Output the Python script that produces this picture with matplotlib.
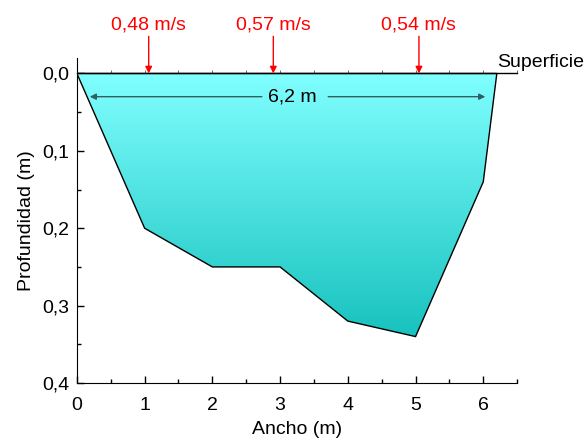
import numpy as np
import matplotlib
matplotlib.use("Agg")
import matplotlib.pyplot as plt
from matplotlib.patches import Polygon
from matplotlib.colors import LinearSegmentedColormap
from matplotlib.ticker import MultipleLocator, FuncFormatter

plt.rcParams['font.family'] = ['Liberation Sans', 'DejaVu Sans']

# Channel cross-section (width in m, depth in m)
ancho = [0.0, 1.0, 2.0, 3.0, 4.0, 5.0, 6.0, 6.2]
profundidad = [0.0, 0.20, 0.25, 0.25, 0.32, 0.34, 0.14, 0.0]

# Surface velocity measurements
vel_x = [1.06, 2.90, 5.05]
vel_labels = ["0,48 m/s", "0,57 m/s", "0,54 m/s"]

ancho_total = 6.2

FS = 14

fig = plt.figure(figsize=(5.87, 4.41), dpi=100)
ax = fig.add_axes([0.131, 0.1315, 0.75, 0.737])

xmax = 6.5
ax.set_xlim(0, xmax)
ax.set_ylim(0.4, -0.02)

# Gradient water fill clipped to the section polygon
verts = list(zip(ancho, profundidad))
poly = Polygon(verts, closed=True, facecolor='none', edgecolor='black', lw=1.0, zorder=3)
ax.add_patch(poly)
cmap = LinearSegmentedColormap.from_list("agua", ["#80FFFF", "#17C2BE"])
grad = np.linspace(0, 1, 256).reshape(-1, 1)
img = ax.imshow(grad, cmap=cmap, aspect='auto', extent=[0, 6.2, max(profundidad), 0],
                origin='upper', zorder=2, interpolation='bilinear')
img.set_clip_path(poly)

# Surface line
ax.plot([0, xmax], [0, 0], color='black', lw=1.0, zorder=4, clip_on=False)
ax.text(6.2, -0.003, "Superficie", fontsize=FS, ha='left', va='bottom', clip_on=False)

# Small ticks along the surface
sec = ax.secondary_xaxis(0.4 / 0.42)
sec.xaxis.set_major_locator(MultipleLocator(1))
sec.xaxis.set_minor_locator(MultipleLocator(0.5))
sec.xaxis.set_ticks_position('bottom')
sec.tick_params(which='both', direction='in', length=2.5, width=0.6, labelbottom=False,
                labeltop=False, top=False, bottom=True, color='#555555')
sec.spines['bottom'].set_visible(False)
sec.spines['top'].set_visible(False)

# Velocity arrows
for xv, lab in zip(vel_x, vel_labels):
    ax.annotate("", xy=(xv, 0.0), xytext=(xv, -0.048),
                arrowprops=dict(arrowstyle='-|>', color='red', lw=1.0,
                                mutation_scale=10, shrinkA=0, shrinkB=0),
                annotation_clip=False, zorder=5)
    ax.text(xv, -0.052, lab, color='red', fontsize=FS, ha='center', va='bottom')

# Width dimension arrow
yw = 0.03
arrow_kw = dict(arrowstyle='-|>', color='#2f5f5f', lw=1.0, mutation_scale=9,
                shrinkA=0, shrinkB=0)
ax.annotate("", xy=(0.19, yw), xytext=(2.73, yw), arrowprops=arrow_kw, zorder=5)
ax.annotate("", xy=(6.03, yw), xytext=(3.71, yw), arrowprops=arrow_kw, zorder=5)
ax.text(3.18, yw, f"{ancho_total:.1f} m".replace('.', ','), fontsize=FS,
        ha='center', va='center', zorder=6)

# Axes styling
for s in ['top', 'right']:
    ax.spines[s].set_visible(False)
ax.xaxis.set_major_locator(MultipleLocator(1))
ax.xaxis.set_minor_locator(MultipleLocator(0.5))
ax.yaxis.set_major_locator(MultipleLocator(0.1))
ax.yaxis.set_minor_locator(MultipleLocator(0.05))
ax.yaxis.set_major_formatter(FuncFormatter(lambda v, p: f"{v:.1f}".replace('.', ',')))
ax.tick_params(which='major', direction='in', length=5, width=1, labelsize=FS)
ax.tick_params(which='minor', direction='in', length=3, width=1)
ax.tick_params(axis='x', which='major', pad=10)
ax.tick_params(axis='y', which='major', pad=5.5)
ax.set_xticks([0, 1, 2, 3, 4, 5, 6])
ax.set_yticks([0.0, 0.1, 0.2, 0.3, 0.4])
ax.set_xlabel("Ancho (m)", fontsize=FS, labelpad=5)
ax.set_ylabel("Profundidad (m)", fontsize=FS, labelpad=5)

fig.savefig("out.png", dpi=100)
